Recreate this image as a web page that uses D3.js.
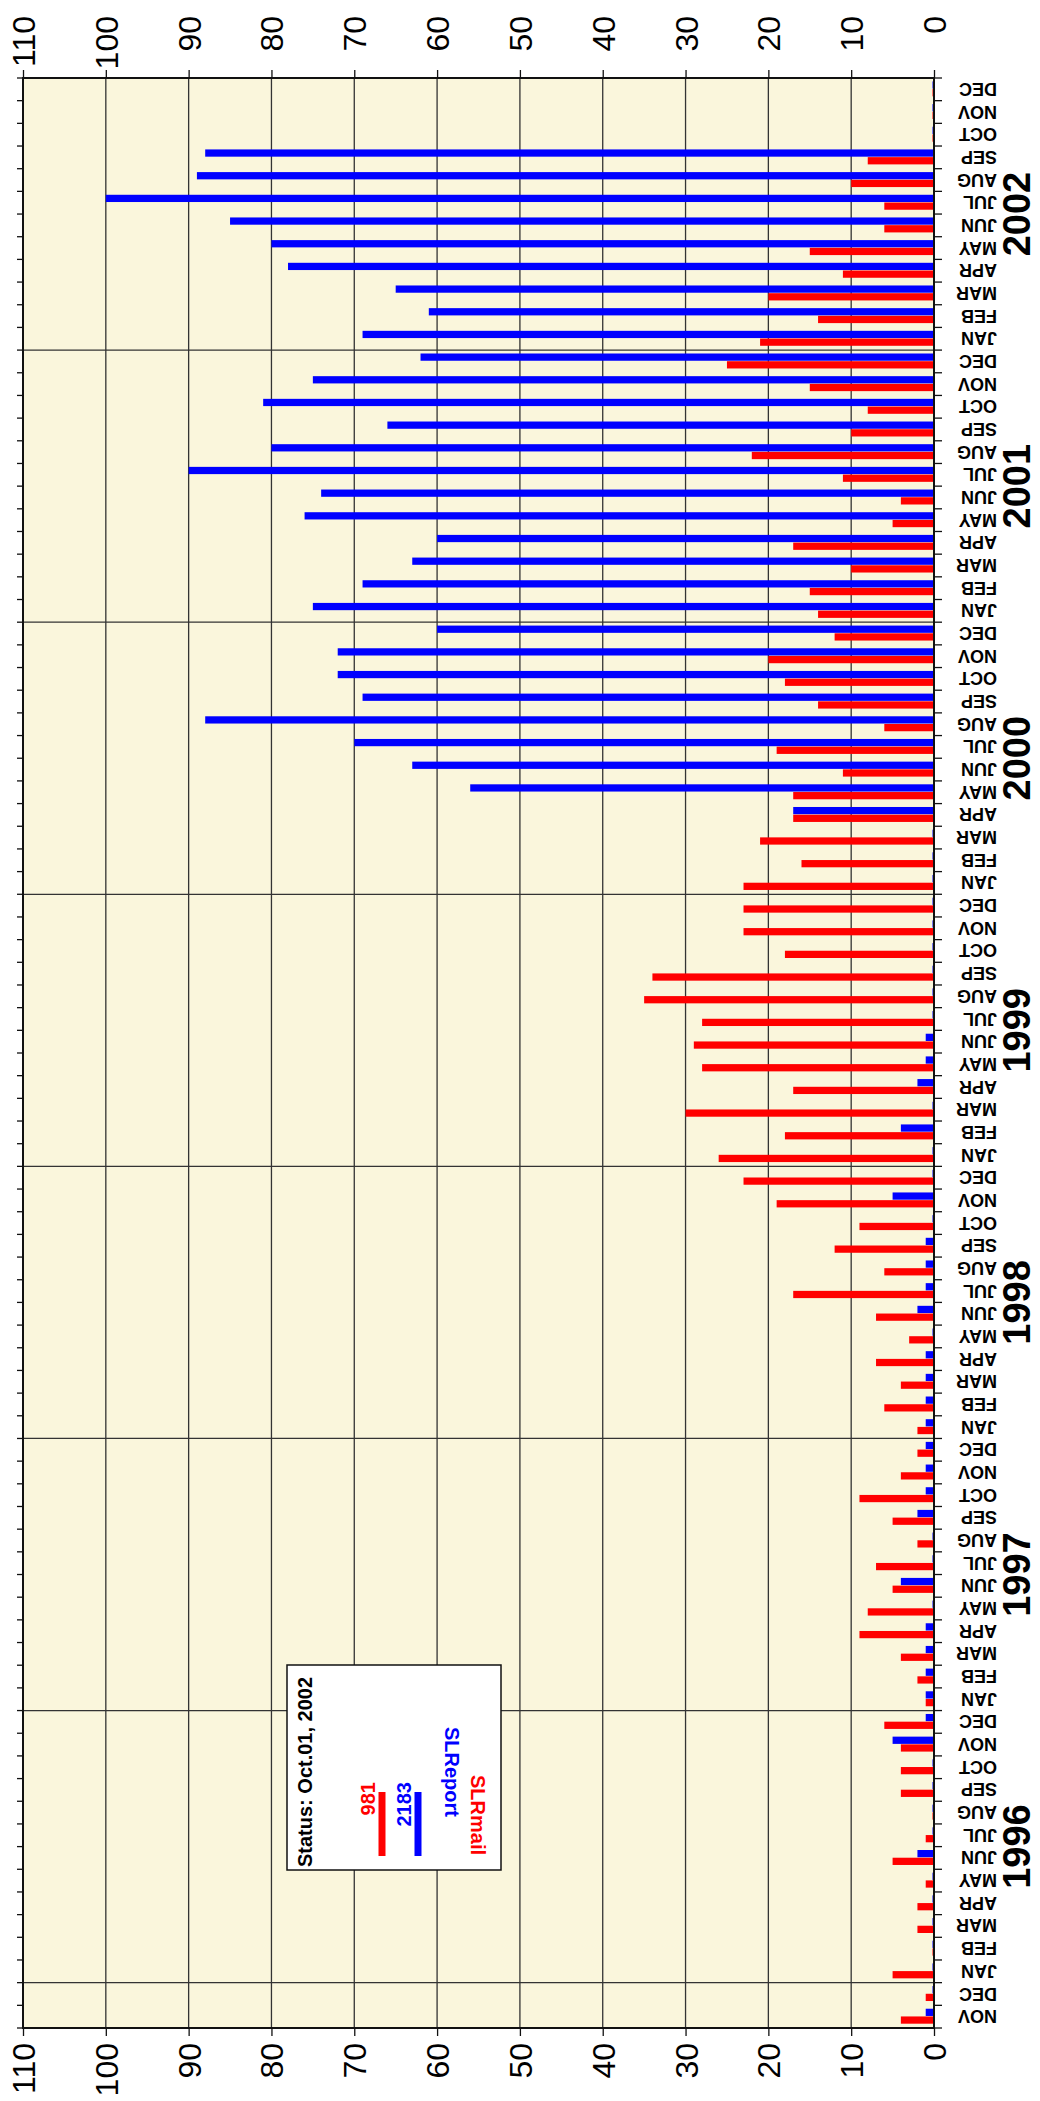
<!DOCTYPE html>
<html>
<head>
<meta charset="utf-8">
<script src="https://cdn.jsdelivr.net/npm/d3@7"></script>
<style>
    body { margin: 0; background: #fff; }
    text { font-family: "Liberation Sans", Arial, Helvetica, sans-serif; }
</style>
</head>
<body>
<div id="vis"></div>
<script>
// months from NOV 1995 to DEC 2002 (bottom to top)
var monthLabels = [
    "NOV", "DEC",
    "JAN", "FEB", "MAR", "APR", "MAY", "JUN", "JUL", "AUG", "SEP", "OCT", "NOV", "DEC",
    "JAN", "FEB", "MAR", "APR", "MAY", "JUN", "JUL", "AUG", "SEP", "OCT", "NOV", "DEC",
    "JAN", "FEB", "MAR", "APR", "MAY", "JUN", "JUL", "AUG", "SEP", "OCT", "NOV", "DEC",
    "JAN", "FEB", "MAR", "APR", "MAY", "JUN", "JUL", "AUG", "SEP", "OCT", "NOV", "DEC",
    "JAN", "FEB", "MAR", "APR", "MAY", "JUN", "JUL", "AUG", "SEP", "OCT", "NOV", "DEC",
    "JAN", "FEB", "MAR", "APR", "MAY", "JUN", "JUL", "AUG", "SEP", "OCT", "NOV", "DEC",
    "JAN", "FEB", "MAR", "APR", "MAY", "JUN", "JUL", "AUG", "SEP", "OCT", "NOV", "DEC"
];
var years = ["1996", "1997", "1998", "1999", "2000", "2001", "2002"];

var slrMail = [
    4, 1,
    5, 0, 2, 2, 1, 5, 1, 0, 4, 4, 4, 6,
    1, 2, 4, 9, 8, 5, 7, 2, 5, 9, 4, 2,
    2, 6, 4, 7, 3, 7, 17, 6, 12, 9, 19, 23,
    26, 18, 30, 17, 28, 29, 28, 35, 34, 18, 23, 23,
    23, 16, 21, 17, 17, 11, 19, 6, 14, 18, 20, 12,
    14, 15, 10, 17, 5, 4, 11, 22, 10, 8, 15, 25,
    21, 14, 20, 11, 15, 6, 6, 10, 8, 0, 0, 0
];
var slReport = [
    1, 0,
    0, 0, 0, 0, 0, 2, 0, 0, 0, 0, 5, 1,
    1, 1, 1, 1, 0, 4, 0, 0, 2, 1, 1, 1,
    1, 1, 1, 1, 0, 2, 1, 1, 1, 0, 5, 0,
    0, 4, 0, 2, 1, 1, 0, 0, 0, 0, 0, 0,
    0, 0, 0, 17, 56, 63, 70, 88, 69, 72, 72, 60,
    75, 69, 63, 60, 76, 74, 90, 80, 66, 81, 75, 62,
    69, 61, 65, 78, 80, 85, 100, 89, 88, 0, 0, 0
];
var valueTicks = [0, 10, 20, 30, 40, 50, 60, 70, 80, 90, 100, 110];
var legendItems = [
    { name: "SLRmail", total: "981", color: "#ff0000" },
    { name: "SLReport", total: "2183", color: "#0000ff" }
];
var statusText = "Status: Oct.01, 2002";

var width = 1040, height = 2101;
var plot = { left: 23, right: 934, top: 78, bottom: 2028 };

var svg = d3.select("#vis").append("svg")
    .attr("width", width)
    .attr("height", height);

var keys = monthLabels.map(function (d, i) { return i; });

var x = d3.scaleLinear().domain([0, 110]).range([plot.right, plot.left]);
var y = d3.scaleBand().domain(keys).range([plot.bottom, plot.top]);
var bw = y.bandwidth();
var sub = d3.scaleBand().domain(["report", "mail"])
    .range([bw * 0.15, bw * 0.81]).paddingInner(0.06);

// background
svg.append("rect")
    .attr("x", plot.left).attr("y", plot.top)
    .attr("width", plot.right - plot.left)
    .attr("height", plot.bottom - plot.top)
    .attr("fill", "#faf6dc");

// value grid
svg.append("g").selectAll("line")
    .data(valueTicks.slice(1, -1))
    .enter().append("line")
    .attr("x1", function (d) { return x(d); })
    .attr("x2", function (d) { return x(d); })
    .attr("y1", plot.top).attr("y2", plot.bottom)
    .attr("stroke", "#333").attr("stroke-width", 1.3);

// year boundaries
svg.append("g").selectAll("line")
    .data(years)
    .enter().append("line")
    .attr("x1", plot.left).attr("x2", plot.right)
    .attr("y1", function (d, i) { return y(2 + i * 12) + bw; })
    .attr("y2", function (d, i) { return y(2 + i * 12) + bw; })
    .attr("stroke", "#333").attr("stroke-width", 1.3);

// bars
var bars = svg.append("g");
function drawSeries(vals, key, color) {
    bars.selectAll(".bar-" + key)
        .data(vals)
        .enter().append("rect")
        .attr("class", "bar-" + key)
        .attr("x", function (d) { return x(d) - (d == 0 ? 1.5 : 0); })
        .attr("y", function (d, i) { return y(i) + sub(key); })
        .attr("width", function (d) { return Math.max(x(0) - x(d), 1.5); })
        .attr("height", sub.bandwidth())
        .attr("fill", color);
}
drawSeries(slReport, "report", "#0000ff");
drawSeries(slrMail, "mail", "#ff0000");

// frame
svg.append("rect")
    .attr("x", plot.left).attr("y", plot.top)
    .attr("width", plot.right - plot.left)
    .attr("height", plot.bottom - plot.top)
    .attr("fill", "none").attr("stroke", "#111").attr("stroke-width", 2);

// value axes, top and bottom
function valueAxis(axis, pos, labelY) {
    var g = svg.append("g")
        .attr("transform", "translate(0," + pos + ")")
        .call(axis(x).tickValues(valueTicks).tickSize(8).tickFormat(d3.format("d")));
    g.select(".domain").remove();
    g.selectAll("line").attr("stroke", "#111").attr("stroke-width", 1.3);
    g.selectAll("text")
        .attr("x", 0).attr("y", 0).attr("dy", "0.36em")
        .attr("transform", "translate(0," + (labelY - pos) + ") rotate(-90)")
        .attr("text-anchor", "end")
        .attr("fill", "#000")
        .style("font-size", "32px");
}
valueAxis(d3.axisTop, plot.top, 16);
valueAxis(d3.axisBottom, plot.bottom, 2043);

// month ticks at band edges, both sides
var edges = keys.map(function (k) { return y(k); }).concat([plot.bottom]);
svg.append("g").selectAll("line")
    .data(edges)
    .enter().append("line")
    .attr("x1", plot.right).attr("x2", plot.right + 8)
    .attr("y1", function (d) { return d; }).attr("y2", function (d) { return d; })
    .attr("stroke", "#111").attr("stroke-width", 1.3);
svg.append("g").selectAll("line")
    .data(edges)
    .enter().append("line")
    .attr("x1", plot.left - 6).attr("x2", plot.left)
    .attr("y1", function (d) { return d; }).attr("y2", function (d) { return d; })
    .attr("stroke", "#111").attr("stroke-width", 1.3);

// month labels (upside down)
svg.append("g").selectAll("text")
    .data(monthLabels)
    .enter().append("text")
    .attr("transform", function (d, i) {
        return "translate(997," + (y(i) + bw / 2) + ") rotate(180)";
    })
    .attr("dy", "0.36em")
    .attr("text-anchor", "start")
    .style("font-size", "18px")
    .style("font-weight", "bold")
    .text(function (d) { return d; });

// year labels
svg.append("g").selectAll("text")
    .data(years)
    .enter().append("text")
    .attr("transform", function (d, i) {
        var yc = (y(2 + i * 12) + bw + y(13 + i * 12)) / 2;
        return "translate(1030," + yc + ") rotate(-90)";
    })
    .attr("text-anchor", "middle")
    .style("font-size", "38px")
    .style("font-weight", "bold")
    .text(function (d) { return d; });

// legend
var lg = svg.append("g");
lg.append("rect")
    .attr("x", 287).attr("y", 1665)
    .attr("width", 214).attr("height", 205)
    .attr("fill", "#fff").attr("stroke", "#111").attr("stroke-width", 1.5);
lg.append("text")
    .attr("transform", "translate(312,1867) rotate(-90)")
    .style("font-size", "20px").style("font-weight", "bold")
    .text(statusText);
var nameX = [478, 452], nameY = [1815, 1772];
legendItems.forEach(function (d, i) {
    var cx = 382 + i * 36;
    lg.append("line")
        .attr("x1", cx).attr("x2", cx)
        .attr("y1", 1792).attr("y2", 1856)
        .attr("stroke", d.color).attr("stroke-width", 7);
    lg.append("text")
        .attr("transform", "translate(" + (cx - 14) + ",1782) rotate(-90)")
        .attr("fill", d.color)
        .attr("text-anchor", "end")
        .attr("dy", "0.36em")
        .style("font-size", "20px").style("font-weight", "bold")
        .text(d.total);
    lg.append("text")
        .attr("transform", "translate(" + nameX[i] + "," + nameY[i] + ") rotate(90)")
        .attr("fill", d.color)
        .attr("text-anchor", "middle")
        .attr("dy", "0.36em")
        .style("font-size", "20px").style("font-weight", "bold")
        .text(d.name);
});
</script>
</body>
</html>
